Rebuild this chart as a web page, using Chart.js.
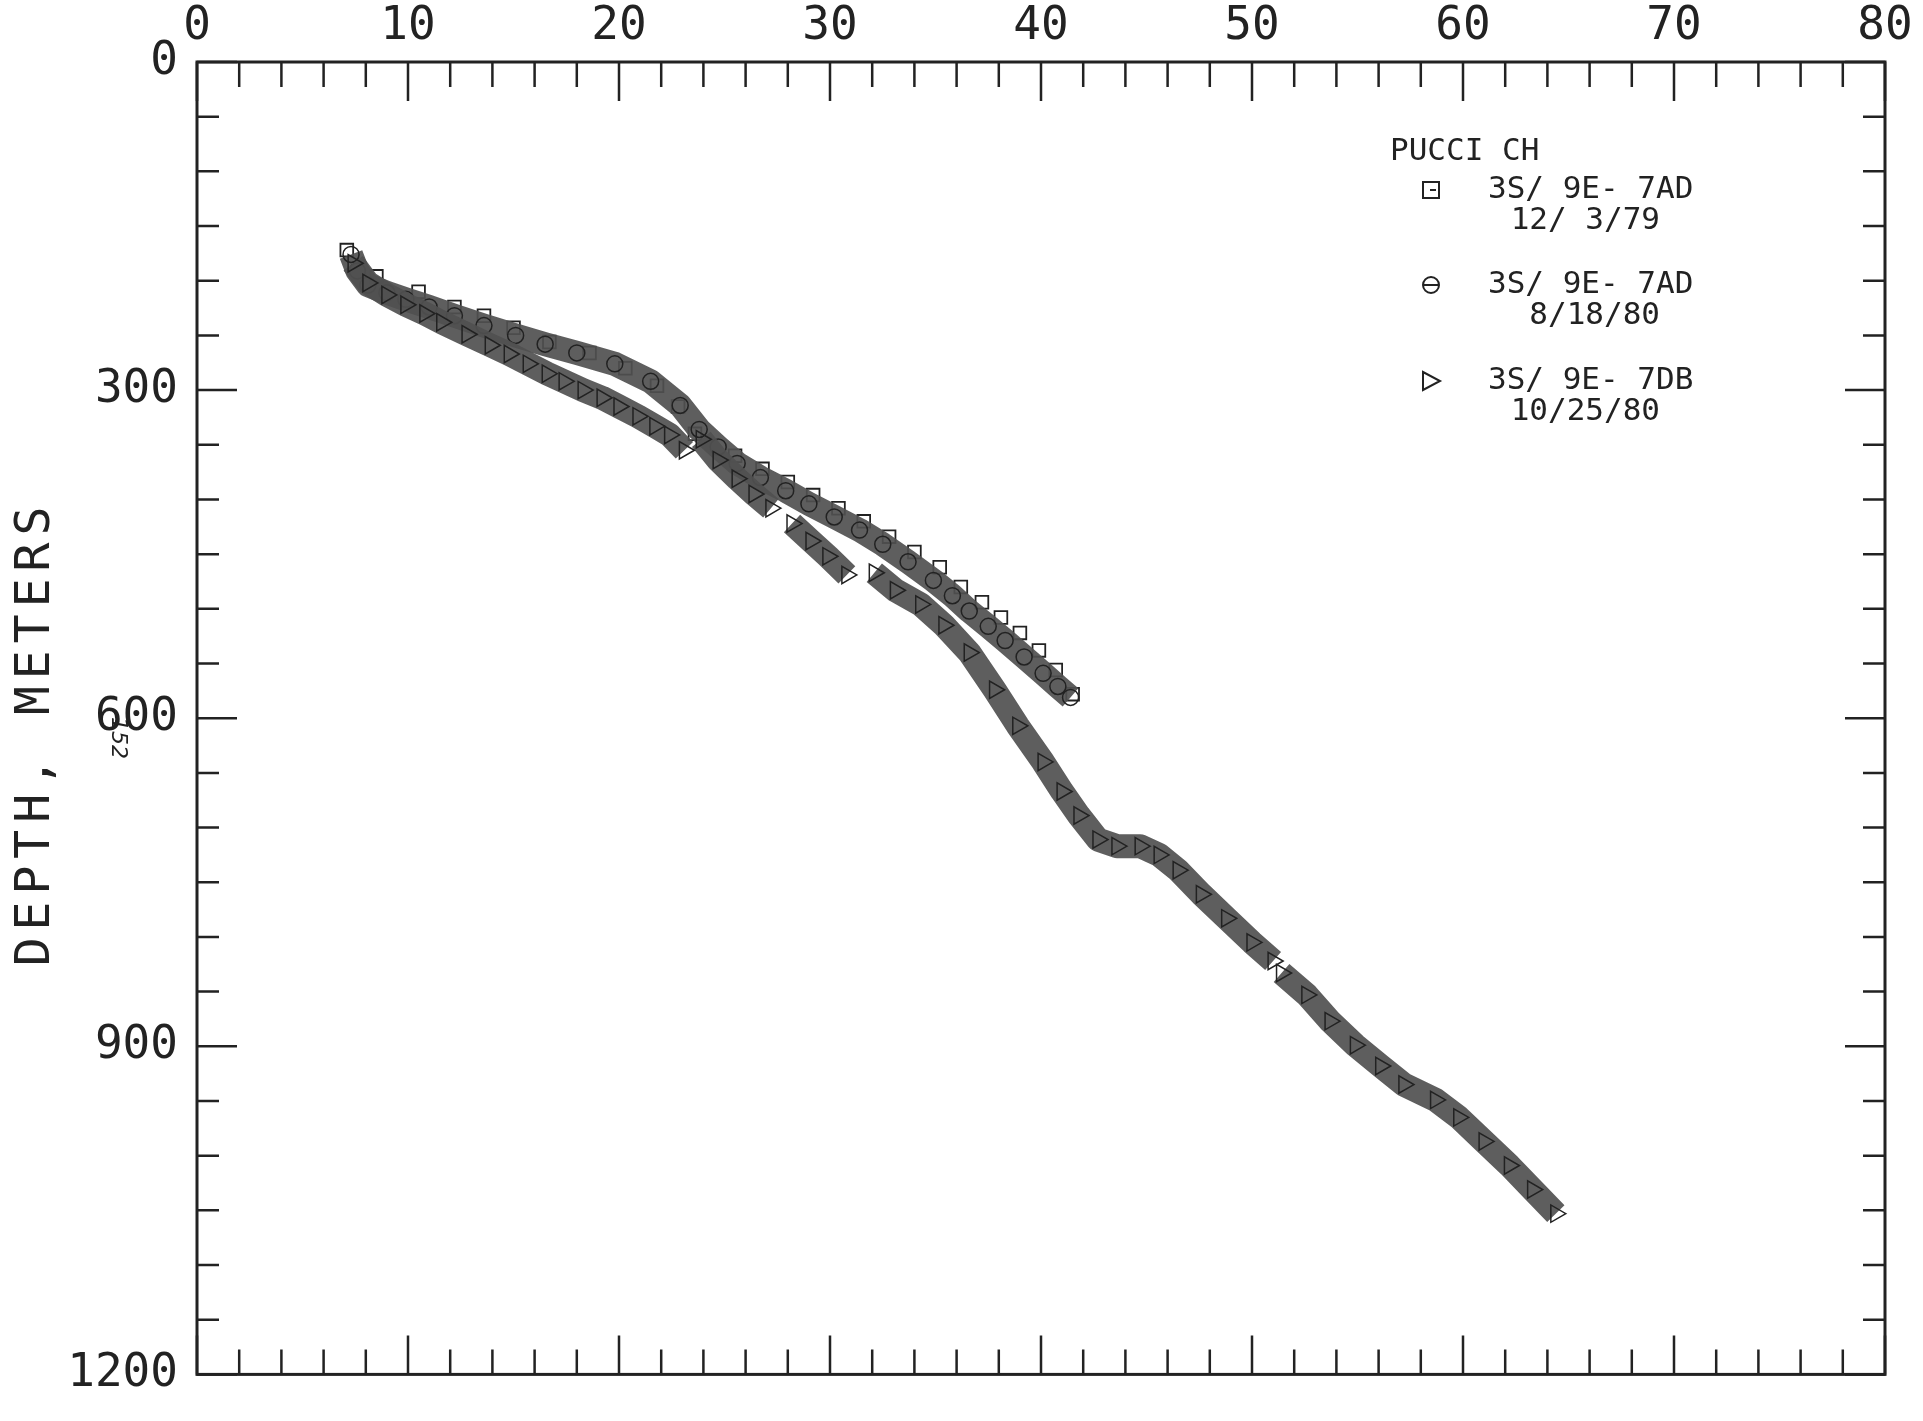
<!DOCTYPE html>
<html><head><meta charset="utf-8">
<script src="https://cdn.jsdelivr.net/npm/chart.js@4/dist/chart.umd.min.js"></script>
<style>html,body{margin:0;padding:0;background:#fff;overflow:hidden}</style>
</head><body>
<canvas id="c" width="1923" height="1421" style="width:1923px;height:1421px;display:block"></canvas>
<script>
// ---- data (temperature °C vs depth m) ----
const xTickLabels = [0,10,20,30,40,50,60,70,80];
const yTickLabels = [0,300,600,900,1200];
const wellName = "PUCCI CH";
const seriesNames = ["3S/ 9E- 7AD","3S/ 9E- 7AD","3S/ 9E- 7DB"];
const seriesDates = ["12/ 3/79","8/18/80","10/25/80"];

// 12/3/79 (squares)
const sqTemp  = [7.1, 8.5, 10.5, 12.2, 13.6, 15.0, 16.7, 18.6, 20.3, 21.8, 22.8, 23.6, 25.5, 26.8, 28.0, 29.2, 30.4, 31.6, 32.8, 34.0, 35.2, 36.2, 37.2, 38.1, 39.0, 39.9, 40.7, 41.5];
const sqDepth = [172, 196, 210, 224, 232, 243, 256, 266, 280, 296, 315, 340, 360, 372, 384, 396, 408, 420, 434, 448, 462, 480, 494, 508, 522, 538, 556, 578];
// 8/18/80 (circles)
const ciTemp  = [7.3, 7.6, 8.1, 9.0, 9.9, 11.0, 12.2, 13.6, 15.1, 16.5, 18.0, 19.8, 21.5, 22.9, 23.8, 24.7, 25.6, 26.7, 27.9, 29.0, 30.2, 31.4, 32.5, 33.7, 34.9, 35.8, 36.6, 37.5, 38.3, 39.2, 40.1, 40.8, 41.4];
const ciDepth = [176, 191, 204, 211, 217, 224, 232, 241, 250, 258, 266, 276, 292, 314, 336, 352, 367, 380, 392, 404, 416, 428, 441, 457, 474, 488, 502, 516, 529, 544, 559, 571, 581];
// 10/25/80 (triangles) - null separates logged runs
const trTemp  = [7.4, 8.1, 9.0, 9.9, 10.8, 11.6, 12.8, 13.9, 14.8, 15.7, 16.6, 17.4, 18.3, 19.2, 20.0, 20.9, 21.7, 22.4, 23.1, null,
                 23.9, 24.7, 25.6, 26.4, 27.2, null,
                 28.2, 29.1, 29.9, 30.8, null,
                 32.1, 33.1, 34.3, 35.4, 36.6, 37.8, 38.9, 40.1, 41.0, 41.8, 42.7, 43.6, 44.7, 45.6, 46.5, 47.6, 48.8, 50.0, 51.0, null,
                 51.4, 52.6, 53.7, 54.9, 56.1, 57.2, 58.7, 59.8, 61.0, 62.2, 63.3, 64.4];
const trDepth = [184, 202, 213, 222, 230, 238, 249, 259, 267, 276, 285, 292, 300, 307, 315, 324, 333, 341, 355, null,
                 345, 364, 381, 395, 408, null,
                 422, 438, 452, 469, null,
                 467, 483, 496, 515, 540, 574, 607, 640, 667, 689, 711, 717, 717, 725, 739, 761, 783, 805, 822, null,
                 833, 853, 877, 899, 918, 935, 949, 965, 987, 1009, 1031, 1053];

function pts(t, d){ return t.map((v,i)=>({x:v, y:d[i]})); }
function segments(t, d){
  const out=[]; let cur=[];
  t.forEach((v,i)=>{ if(v===null){ if(cur.length) out.push(cur); cur=[]; } else cur.push({x:v,y:d[i]}); });
  if(cur.length) out.push(cur);
  return out;
}

const INK = '#222';
const BAND = 'rgba(80,80,80,0.92)';

const datasets = [];
segments(trTemp, trDepth).forEach(seg=>{
  datasets.push({data:seg, showLine:true, borderColor:BAND, borderWidth:24, tension:0,
    borderCapStyle:'butt', borderJoinStyle:'round',
    pointStyle:'triangle', rotation:90, pointRadius:10, pointBorderColor:INK, pointBorderWidth:1.5,
    pointBackgroundColor:'rgba(0,0,0,0)'});
});
datasets.push({data:pts(ciTemp, ciDepth), showLine:true, borderColor:BAND, borderWidth:24, tension:0,
  borderJoinStyle:'round', pointStyle:'circle', pointRadius:8, pointBorderColor:INK, pointBorderWidth:1.5,
  pointBackgroundColor:'rgba(0,0,0,0)'});
datasets.push({data:pts(sqTemp, sqDepth), showLine:false, pointStyle:'rect', pointRadius:9,
  pointBorderColor:INK, pointBorderWidth:1.8, pointBackgroundColor:'rgba(255,255,255,0.25)'});

const MONO = '"DejaVu Sans Mono", "Liberation Mono", monospace';

const framePlugin = {
  id:'frame',
  afterDatasetsDraw(chart){
    const {ctx, chartArea:a, scales:{x, y}} = chart;
    ctx.save();
    ctx.strokeStyle = INK; ctx.lineWidth = 3;
    ctx.strokeRect(a.left, a.top, a.right-a.left, a.bottom-a.top);
    ctx.lineWidth = 2.5;
    ctx.beginPath();
    for(let v=0; v<=80; v+=2){
      const px = x.getPixelForValue(v);
      const L = (v%10===0) ? 39 : 25;
      ctx.moveTo(px, a.top); ctx.lineTo(px, a.top+L);
      ctx.moveTo(px, a.bottom); ctx.lineTo(px, a.bottom-L);
    }
    for(let v=0; v<=1200; v+=50){
      const py = y.getPixelForValue(v);
      const L = (v%300===0) ? 40 : 22;
      ctx.moveTo(a.left, py); ctx.lineTo(a.left+L, py);
      ctx.moveTo(a.right, py); ctx.lineTo(a.right-L, py);
    }
    ctx.stroke();
    ctx.restore();
  },
  afterDraw(chart){
    const ctx = chart.ctx;
    ctx.save();
    ctx.fillStyle = INK; ctx.strokeStyle = INK;
    // y-axis title
    ctx.save();
    ctx.translate(37, 733); ctx.rotate(-Math.PI/2);
    ctx.font = '48px ' + MONO; ctx.textAlign='center'; ctx.textBaseline='middle';
    ctx.letterSpacing = '7px';
    ctx.fillText('DEPTH, METERS', 0, 0);
    ctx.restore();
    // handwritten note
    ctx.save();
    ctx.translate(118, 738); ctx.rotate(Math.PI/2);
    ctx.font = 'italic 22px "DejaVu Sans"'; ctx.textAlign='center'; ctx.textBaseline='middle';
    ctx.fillText('152', 0, 0);
    ctx.restore();
    // legend
    ctx.font = '31px ' + MONO; ctx.textBaseline='middle';
    ctx.textAlign='left';
    ctx.fillText(wellName, 1390, 152);
    const rowY = [190, 285, 381];
    rowY.forEach((yy, i)=>{
      ctx.textAlign='left';
      ctx.fillText(seriesNames[i], 1488, yy);
      ctx.textAlign='right';
      ctx.fillText(seriesDates[i], 1660, yy+31);
      ctx.lineWidth = 2;
      const mx = 1431, my = yy;
      ctx.beginPath();
      if(i===0){ ctx.rect(mx-8, my-8, 16, 16); ctx.moveTo(mx-1,my); ctx.lineTo(mx+5,my); }
      else if(i===1){ ctx.arc(mx, my, 8, 0, Math.PI*2); ctx.moveTo(mx-8,my); ctx.lineTo(mx+8,my); }
      else { ctx.moveTo(mx-8, my-9); ctx.lineTo(mx+9, my); ctx.lineTo(mx-8, my+9); ctx.closePath(); }
      ctx.stroke();
    });
    ctx.restore();
  }
};

new Chart(document.getElementById('c'), {
  type:'scatter',
  data:{datasets},
  options:{
    responsive:false, animation:false, devicePixelRatio:1,
    layout:{padding:{left:0, top:0, right:38, bottom:20}},
    plugins:{legend:{display:false}, tooltip:{enabled:false}},
    scales:{
      x:{type:'linear', position:'top', min:0, max:80,
        afterFit:s=>{ s.height = 62; },
        afterBuildTicks:s=>{ s.ticks = xTickLabels.map(v=>({value:v})); },
        grid:{display:false, drawTicks:false}, border:{display:false},
        ticks:{padding:7, color:INK, font:{family:MONO, size:46}, maxRotation:0, autoSkip:false,
          callback:v=>String(v)}},
      y:{type:'linear', position:'left', reverse:true, min:0, max:1200,
        afterFit:s=>{ s.width = 197; },
        afterBuildTicks:s=>{ s.ticks = yTickLabels.map(v=>({value:v})); },
        grid:{display:false, drawTicks:false}, border:{display:false},
        ticks:{padding:19, color:INK, font:{family:MONO, size:46}, autoSkip:false,
          callback:v=>String(v)}}
    }
  },
  plugins:[framePlugin]
});
</script>
</body></html>
